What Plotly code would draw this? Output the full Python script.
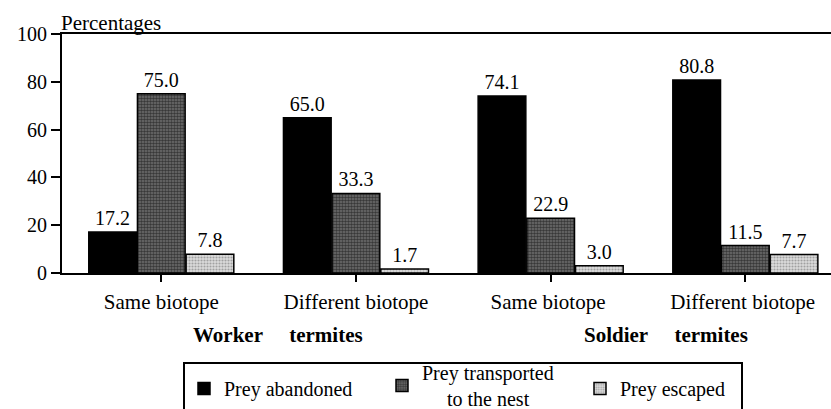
import plotly.graph_objects as go

categories = ["Same biotope", "Different biotope", "Same biotope ", "Different biotope "]
abandoned = [17.2, 65.0, 74.1, 80.8]
transported = [75.0, 33.3, 22.9, 11.5]
escaped = [7.8, 1.7, 3.0, 7.7]
y_ticks = [0, 20, 40, 60, 80, 100]

FONT = '"Liberation Serif", "Times New Roman", Times, serif'

# plot area in pixels: left 62, right 831, top 34, bottom 273
PL, PW, PT, PH = 62, 769, 34, 239
def px(x):
    return (x - PL) / PW
def py(y):
    return (PT + PH - y) / PH

fig = go.Figure()
series = [
    ("Prey abandoned", abandoned, dict(color="black"), "legend"),
    ("Prey transported<br>&nbsp;&nbsp;&nbsp;&nbsp;&nbsp;to the nest", transported,
     dict(color="#444444", pattern=dict(shape=".", fgcolor="black", bgcolor="#707070", size=3, solidity=0.55)), "legend2"),
    ("Prey escaped", escaped,
     dict(color="#bbbbbb", pattern=dict(shape=".", fgcolor="#666666", bgcolor="#dcdcdc", size=3, solidity=0.4)), "legend3"),
]
for name, vals, mk, lg in series:
    mk = dict(mk)
    mk["line"] = dict(color="black", width=1.5)
    fig.add_trace(go.Bar(
        name=name, x=categories, y=vals, marker=mk, legend=lg,
        text=[f"{v:.1f}" for v in vals], textposition="outside",
        textfont=dict(family=FONT, size=20, color="black"),
        cliponaxis=False,
    ))

leg_common = dict(orientation="h", xanchor="left", yanchor="top", borderwidth=0,
                  bgcolor="rgba(0,0,0,0)", font=dict(family=FONT, size=20, color="black"),
                  itemwidth=30)

fig.update_layout(
    width=831, height=409,
    margin=dict(l=PL, r=831 - PL - PW, t=PT, b=409 - PT - PH, autoexpand=False),
    plot_bgcolor="white", paper_bgcolor="white",
    barmode="group", bargap=0.25, bargroupgap=0.02,
    font=dict(family=FONT, size=20, color="black"),
    showlegend=True,
    legend=dict(leg_common, x=px(184), y=py(369)),
    legend2=dict(leg_common, x=px(382), y=py(353)),
    legend3=dict(leg_common, x=px(580), y=py(369)),
    xaxis=dict(showline=True, linecolor="black", linewidth=2, mirror=True,
               ticks="outside", ticklen=7, tickwidth=2, tickcolor="black",
               showgrid=False, range=[-0.51, 3.44],
               tickfont=dict(family=FONT, size=21), ticklabelstandoff=2),
    yaxis=dict(range=[0, 100], tickvals=y_ticks, showline=True, linecolor="black",
               linewidth=2, ticks="outside", ticklen=9, tickwidth=2, tickcolor="black",
               showgrid=False, zeroline=False, tickfont=dict(family=FONT, size=20)),
    shapes=[dict(type="rect", xref="paper", yref="paper", x0=px(184), x1=px(742),
                 y0=py(363), y1=py(420), line=dict(color="black", width=2))],
    annotations=[
        dict(text="Percentages", x=0, xref="paper", y=1.0, yref="paper", xanchor="left",
             yanchor="bottom", showarrow=False, font=dict(family=FONT, size=21), yshift=-3, xshift=-3),
        dict(text="<b>Worker&nbsp;&nbsp;&nbsp;&nbsp;&nbsp;termites</b>", x=0.597, xref="x", y=py(335), yref="paper",
             xanchor="center", yanchor="middle",
             showarrow=False, font=dict(family=FONT, size=21)),
        dict(text="<b>Soldier&nbsp;&nbsp;&nbsp;&nbsp;&nbsp;termites</b>", x=2.595, xref="x", y=py(335), yref="paper",
             xanchor="center", yanchor="middle",
             showarrow=False, font=dict(family=FONT, size=21)),
    ],
)

fig.write_html("out.html", config={"displayModeBar": False},
               post_script="document.body.style.margin='0';document.body.style.overflow='hidden';")
